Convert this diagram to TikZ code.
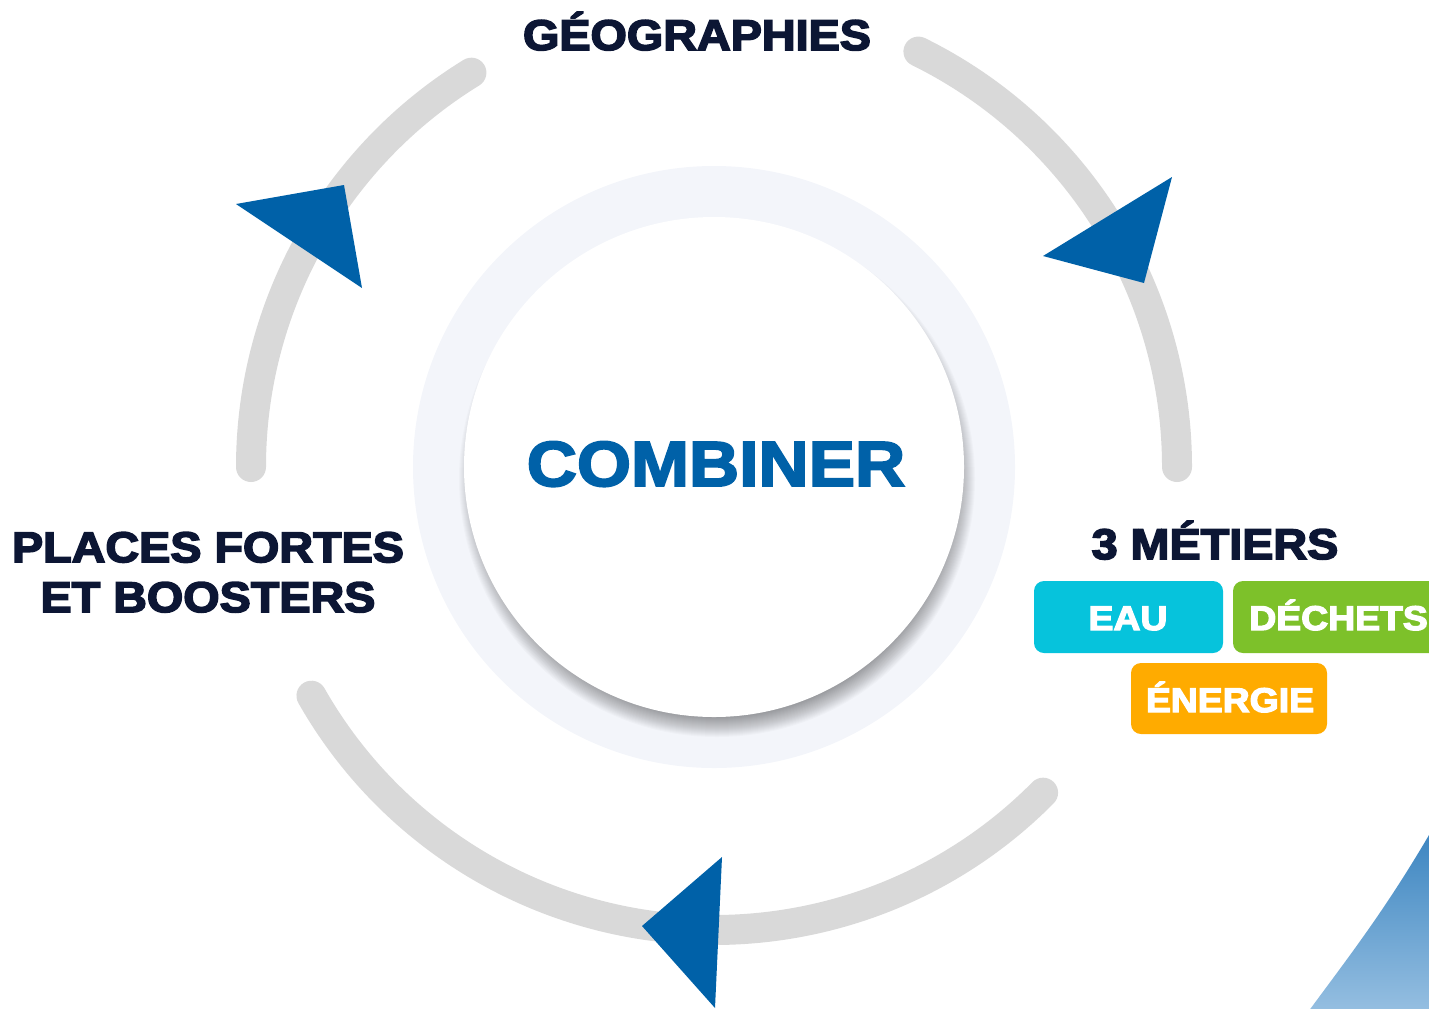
\documentclass[tikz,border=0pt]{standalone}
\usepackage{fontspec}
\newfontfamily\heavy[FakeBold=3.8,FakeStretch=1.09]{Liberation Sans Bold}
\newfontfamily\heavyc[FakeBold=3,FakeStretch=1.09]{Liberation Sans Bold}
\definecolor{navy}{HTML}{0C1634}
\definecolor{blueT}{HTML}{0061A8}
\definecolor{ringgray}{HTML}{D9D9D9}
\definecolor{pale}{HTML}{F3F5FA}
\definecolor{cyanB}{HTML}{06C3DC}
\definecolor{greenB}{HTML}{7DC12A}
\definecolor{orangeB}{HTML}{FFAB00}
\definecolor{wedgeTop}{HTML}{3D86C1}
\definecolor{wedgeBot}{HTML}{96BFE1}
\tikzset{
  ring/.style={draw=ringgray, line width=0.6cm, line cap=round},
  tri/.style={fill=blueT},
  lbl/.style={text=navy, font=\heavy\fontsize{24.4}{28.4}\selectfont, align=center, inner sep=0pt},
  tag/.style={rounded corners=0.2cm},
  tagtext/.style={text=white, font=\heavy\fontsize{19.5}{22}\selectfont, inner sep=0pt},
}
\begin{document}
\begin{tikzpicture}[x=0.02cm,y=-0.02cm]
\useasboundingbox (0,0) rectangle (1429,1008);
\clip (0,0) rectangle (1429,1008);
\coordinate (c) at (714,467);
% bottom right wedge
\shade[top color=wedgeTop, bottom color=wedgeBot] (1429,835) .. controls (1385,910) and (1350,955) .. (1308,1012) -- (1440,1012) -- (1440,835) -- cycle;
% ring arcs
\draw[ring] (c) ++(-121.6:463) arc[start angle=-121.6, end angle=-180, radius=463];
\draw[ring] (c) ++(-63.8:463) arc[start angle=-63.8, end angle=0, radius=463];
\draw[ring] (c) ++(44.7:463) arc[start angle=44.7, end angle=150.4, radius=463];
% arrow heads
\fill[tri] (236,204) -- (344,185) -- (362,288) -- cycle;
\fill[tri] (1172,177) -- (1043,256) -- (1144,283) -- cycle;
\fill[tri] (722,857) -- (642,926) -- (715,1008) -- cycle;
% centre
\fill[pale] (c) circle[radius=301];
\foreach \i in {0,...,30} \fill[black,opacity=0.018] (717,479) circle[radius=228+\i];
\fill[white] (c) circle[radius=250];
\node[anchor=base, text=blueT, font=\heavyc\fontsize{36.3}{40}\selectfont, inner sep=0pt] (comb) at (716,486) {COMBINER};
% labels
\node[lbl, anchor=base] (geo) at (697,50) {GÉOGRAPHIES};
\node[lbl, anchor=base] (pf) at (208,612) {PLACES FORTES\\ET BOOSTERS};
\node[lbl, anchor=base] (met) at (1215,559) {3 MÉTIERS};
% tags
\fill[tag, cyanB] (1034,581) rectangle (1223,653);
\fill[tag, greenB] (1233,581) rectangle (1460,653);
\fill[tag, orangeB] (1131,663) rectangle (1327,734);
\node[tagtext, anchor=base] (eau) at (1128,630) {EAU};
\node[tagtext, anchor=base west] (dech) at (1249,630) {DÉCHETS};
\node[tagtext, anchor=base] (ener) at (1230,712) {ÉNERGIE};
\end{tikzpicture}
\end{document}
